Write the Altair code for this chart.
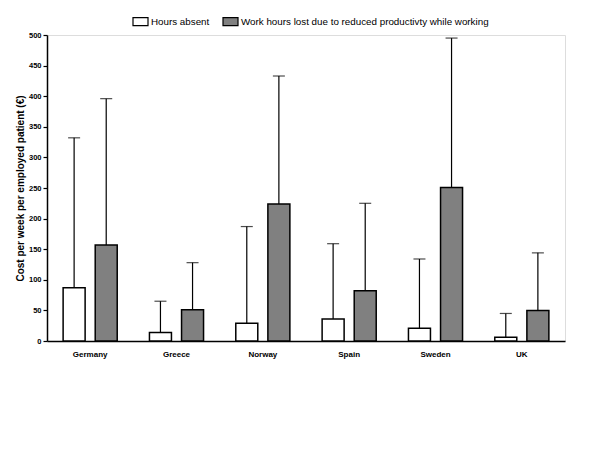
import altair as alt
import pandas as pd

countries = ["Germany", "Greece", "Norway", "Spain", "Sweden", "UK"]
series = ["Hours absent", "Work hours lost due to reduced productivty while working"]
absent_mean = [87, 14, 29, 36, 21, 6]
absent_err = [332, 65, 187, 159, 134, 45]
work_mean = [157, 51, 224, 82, 251, 50]
work_err = [396, 128, 433, 225, 495, 144]
y_ticks = [0, 50, 100, 150, 200, 250, 300, 350, 400, 450, 500]

rows = []
for i, c in enumerate(countries):
    rows.append({"country": c, "series": series[0], "value": absent_mean[i], "upper": absent_err[i]})
    rows.append({"country": c, "series": series[1], "value": work_mean[i], "upper": work_err[i]})
df = pd.DataFrame(rows)

FONT = "Liberation Sans"
YTITLE = "Cost per week per employed patient (€)"

x = alt.X("country:N", sort=countries, title=None,
          scale=alt.Scale(paddingInner=0, paddingOuter=0),
          axis=alt.Axis(labelAngle=0, ticks=False, labelFontWeight="bold", labelFontSize=8,
                        labelPadding=9))
xo = alt.XOffset("series:N", sort=series,
                 scale=alt.Scale(paddingInner=0.31, paddingOuter=0.5))
yaxis = alt.Axis(values=y_ticks, grid=False, labelFontWeight="bold", labelFontSize=7.5,
                 tickSize=4, labelPadding=2, labelOverlap=False,
                 titleFontSize=10, titleFontWeight="bold", titlePadding=3)
yscale = alt.Scale(domain=[0, 500], nice=False)

color = alt.Color("series:N", sort=series, title=None,
                  scale=alt.Scale(domain=series, range=["white", "#808080"]),
                  legend=alt.Legend(orient="none", legendX=85, legendY=-22, direction="horizontal",
                                    symbolType="M-1,-0.53H1V0.53H-1Z", symbolSize=225,
                                    symbolStrokeColor="black", symbolStrokeWidth=1.2,
                                    symbolOpacity=1, labelFont=FONT, labelFontSize=9.8,
                                    labelColor="black", labelOffset=2, columnPadding=10,
                                    labelLimit=400, padding=0))

bars = alt.Chart(df).mark_bar(stroke="black", strokeWidth=1.5, width=22).encode(
    x=x, xOffset=xo, y=alt.Y("value:Q", title=YTITLE, scale=yscale, axis=yaxis), color=color)
err_line = alt.Chart(df).mark_rule(color="black", strokeWidth=1.2).encode(
    x=x, xOffset=xo, y=alt.Y("value:Q", title=YTITLE, scale=yscale, axis=yaxis), y2="upper:Q")
cap = alt.Chart(df).mark_tick(color="black", thickness=1.2, size=12).encode(
    x=x, xOffset=xo, y=alt.Y("upper:Q", title=YTITLE, scale=yscale, axis=yaxis))

chart = alt.layer(err_line, cap, bars).properties(
    width=518, height=306,
    autosize=alt.AutoSizeParams(type="none"),
    padding={"left": 39, "top": 27, "right": 27, "bottom": 100},
).configure_view(stroke=None).configure(background="white").configure_axis(
    labelFont=FONT, titleFont=FONT, labelColor="black", titleColor="black",
    domainColor="black", domainWidth=1.5, tickColor="black", tickWidth=1.2)

chart.save("out.html", embed_options={"renderer": "svg", "actions": False})
